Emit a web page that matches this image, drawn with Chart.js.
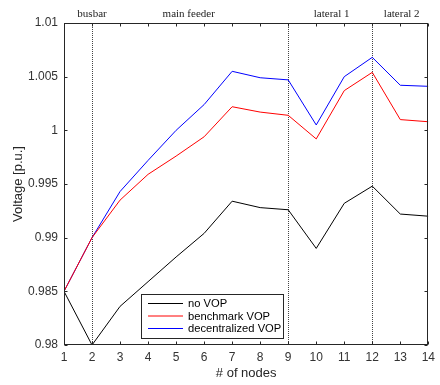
<!DOCTYPE html>
<html>
<head>
<meta charset="utf-8">
<script src="https://cdn.jsdelivr.net/npm/chart.js@4.4.1/dist/chart.umd.min.js"></script>
<style>
  body { margin: 0; background: #fff; }
  canvas { display: block; }
</style>
</head>
<body>
<canvas id="myChart" width="440" height="385"></canvas>
<script>
// node numbers on the x axis
const nodes = [1, 2, 3, 4, 5, 6, 7, 8, 9, 10, 11, 12, 13, 14];

// voltage profiles [p.u.]
const noVOP = [0.985, 0.980, 0.9836, 0.9859, 0.9882, 0.9904, 0.9934, 0.9928, 0.9926, 0.9890, 0.9932, 0.9948, 0.9922, 0.9920];
const benchmarkVOP = [0.985, 0.990, 0.9935, 0.9959, 0.9976, 0.9994, 1.0022, 1.0017, 1.0014, 0.9992, 1.0037, 1.0054, 1.0010, 1.0008];
const decentralizedVOP = [0.985, 0.990, 0.9943, 0.9972, 1.0000, 1.0024, 1.0055, 1.0049, 1.0047, 1.0005, 1.0050, 1.0068, 1.0042, 1.0041];

const seriesNames = ['no VOP', 'benchmark VOP', 'decentralized VOP'];
const seriesColors = ['#000000', '#ff0000', '#0000ff'];

// section dividers and the labels above the plot
const dividerNodes = [2, 9, 12];
const sectionNames = ['busbar', 'main feeder', 'lateral 1', 'lateral 2'];
const sectionCenters = [2, 5.45, 10.55, 13.05];

const axisColor = '#262626';

const toPoints = (arr) => nodes.map((n, i) => ({ x: n, y: arr[i] }));

// dotted lines at the section borders, drawn under the curves
const dividerPlugin = {
    id: 'dividers',
    beforeDatasetsDraw(chart) {
        const ctx = chart.ctx;
        const area = chart.chartArea;
        const xs = chart.scales.x;
        ctx.save();
        ctx.strokeStyle = '#444';
        ctx.lineWidth = 1;
        ctx.setLineDash([1, 1]);
        dividerNodes.forEach(n => {
            const px = Math.round(xs.getPixelForValue(n)) + 0.5;
            ctx.beginPath();
            ctx.moveTo(px, area.top);
            ctx.lineTo(px, area.bottom);
            ctx.stroke();
        });
        ctx.restore();
    }
};

// box around the axes with inward ticks on all four sides, section labels, legend
const framePlugin = {
    id: 'frame',
    afterDatasetsDraw(chart) {
        const ctx = chart.ctx;
        const a = chart.chartArea;
        const xs = chart.scales.x;
        const ys = chart.scales.y;
        const L = a.left + 0.5, R = Math.round(a.right) - 0.5, T = a.top + 0.5, B = Math.round(a.bottom) - 0.5;
        const tick = 3;
        ctx.save();
        ctx.strokeStyle = axisColor;
        ctx.lineWidth = 1;
        ctx.strokeRect(L, T, R - L, B - T);
        ctx.beginPath();
        xs.ticks.forEach(t => {
            const px = Math.round(xs.getPixelForValue(t.value)) + 0.5;
            ctx.moveTo(px, B); ctx.lineTo(px, B - tick);
            ctx.moveTo(px, T); ctx.lineTo(px, T + tick);
        });
        ys.ticks.forEach(t => {
            const py = Math.round(ys.getPixelForValue(t.value)) + 0.5;
            ctx.moveTo(L, py); ctx.lineTo(L + tick, py);
            ctx.moveTo(R, py); ctx.lineTo(R - tick, py);
        });
        ctx.stroke();

        // section labels above the plot
        ctx.fillStyle = '#222';
        ctx.font = '11px "Liberation Serif"';
        ctx.textAlign = 'center';
        ctx.textBaseline = 'middle';
        sectionNames.forEach((name, i) => {
            ctx.fillText(name, xs.getPixelForValue(sectionCenters[i]), 14);
        });

        // legend box
        const bx = 141.5, by = 294.5, bw = 142, bh = 44;
        ctx.fillStyle = '#fff';
        ctx.fillRect(bx, by, bw, bh);
        ctx.strokeStyle = axisColor;
        ctx.strokeRect(bx, by, bw, bh);
        ctx.font = '11.2px "Liberation Sans"';
        ctx.textAlign = 'left';
        chart.data.datasets.forEach((ds, i) => {
            const ry = 303.5 + i * 12.5;
            ctx.strokeStyle = ds.borderColor;
            ctx.beginPath();
            ctx.moveTo(148, ry);
            ctx.lineTo(183, ry);
            ctx.stroke();
            ctx.fillStyle = '#000';
            ctx.fillText(ds.label, 188, ry + 0.5);
        });
        ctx.restore();
    }
};

const ctx = document.getElementById('myChart');
new Chart(ctx, {
    type: 'line',
    data: {
        datasets: [noVOP, benchmarkVOP, decentralizedVOP].map((arr, i) => ({
            label: seriesNames[i],
            data: toPoints(arr),
            borderColor: seriesColors[i],
            borderWidth: 1,
            pointRadius: 0,
            tension: 0,
            fill: false
        }))
    },
    options: {
        responsive: false,
        animation: false,
        devicePixelRatio: 1,
        layout: { padding: { top: 23, right: 6, left: 0, bottom: 0 } },
        plugins: {
            legend: { display: false },
            tooltip: { enabled: false }
        },
        scales: {
            x: {
                type: 'linear',
                min: 1,
                max: 14,
                grid: { drawOnChartArea: false, drawTicks: false },
                border: { display: false },
                ticks: {
                    stepSize: 1,
                    padding: 5,
                    color: '#333',
                    font: { family: 'Liberation Sans', size: 12 }
                },
                title: {
                    display: true,
                    text: '# of nodes',
                    color: axisColor,
                    padding: { top: 0, bottom: 4 },
                    font: { family: 'Liberation Sans', size: 13 }
                },
                afterFit: (scale) => { scale.height = 40; }
            },
            y: {
                min: 0.98,
                max: 1.01,
                grid: { drawOnChartArea: false, drawTicks: false },
                border: { display: false },
                ticks: {
                    stepSize: 0.005,
                    padding: 6,
                    color: '#333',
                    font: { family: 'Liberation Sans', size: 12 },
                    callback: (v) => String(Number(v.toFixed(3)))
                },
                title: {
                    display: true,
                    text: 'Voltage [p.u.]',
                    color: axisColor,
                    padding: { top: 11, bottom: 0 },
                    font: { family: 'Liberation Sans', size: 13 }
                },
                afterFit: (scale) => { scale.width = 64; }
            }
        }
    },
    plugins: [dividerPlugin, framePlugin]
});
</script>
</body>
</html>
